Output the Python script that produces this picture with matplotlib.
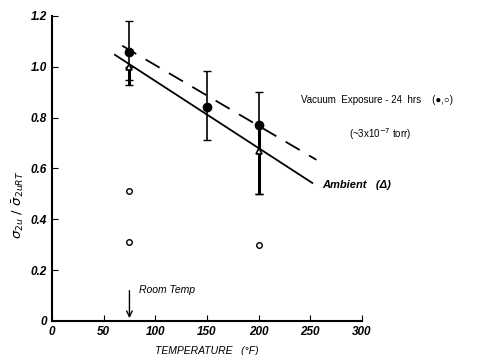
import matplotlib
matplotlib.use('Agg')
import matplotlib.pyplot as plt
import numpy as np

# data
temp_vac = [75, 150, 200]
ratio_vac = [1.06, 0.84, 0.77]
vac_hi = [1.18, 0.985, 0.90]
vac_lo = [0.95, 0.71, 0.50]

temp_amb = [75, 200]
ratio_amb = [1.00, 0.67]
amb_hi = [1.00, 0.77]
amb_lo = [0.93, 0.50]

temp_low = [75, 75, 200]
ratio_low = [0.51, 0.31, 0.30]

# fitted lines (end points)
amb_line_x = [61, 252]
amb_line_y = [1.047, 0.543]
vac_line_x = [68, 256]
vac_line_y = [1.083, 0.634]

xticks = [0, 50, 100, 150, 200, 250, 300]
yticks = [0, 0.2, 0.4, 0.6, 0.8, 1.0, 1.2]
ylabels = ['0', '0.2', '0.4', '0.6', '0.8', '1.0', '1.2']

plt.rcParams['font.family'] = ['Liberation Sans', 'DejaVu Sans']

fig = plt.figure(figsize=(4.95, 3.55), dpi=100)
ax = fig.add_axes([0.105, 0.096, 0.626, 0.859])

ax.plot(amb_line_x, amb_line_y, color='black', lw=1.3)
ax.plot(vac_line_x, vac_line_y, color='black', lw=1.3, dashes=(9, 6))

# error bars
vac_err = [np.array(ratio_vac) - np.array(vac_lo), np.array(vac_hi) - np.array(ratio_vac)]
ax.errorbar(temp_vac, ratio_vac, yerr=vac_err, fmt='none', ecolor='black', elinewidth=1.2, capsize=3)
amb_err = [np.array(ratio_amb) - np.array(amb_lo), np.array(amb_hi) - np.array(ratio_amb)]
ax.errorbar(temp_amb, ratio_amb, yerr=amb_err, fmt='none', ecolor='black', elinewidth=2.2, capsize=3)

ax.plot(temp_vac, ratio_vac, 'o', color='black', ms=6)
ax.plot(temp_amb, ratio_amb, '^', mfc='white', mec='black', mew=1.2, ms=5)
ax.plot(temp_low, ratio_low, 'o', mfc='white', mec='black', mew=1.0, ms=4)

# room temperature arrow
ax.annotate('', xy=(75, 0.0), xytext=(75, 0.13),
            arrowprops=dict(arrowstyle='->', color='black', lw=1.0))
ax.text(84, 0.12, 'Room Temp', fontsize=7.5, style='italic', va='center')

ax.text(241, 0.87, 'Vacuum  Exposure - 24  hrs    (\u25cf,\u25cb)', fontsize=7, va='center')
ax.text(288, 0.735, '(~3x10$^{-7}$ torr)', fontsize=7, va='center')
ax.text(262, 0.535, 'Ambient   (\u0394)', fontsize=8, style='italic', weight='bold', va='center')

ax.set_xlim(0, 300)
ax.set_ylim(0, 1.2)
ax.set_xticks(xticks)
ax.set_yticks(yticks)
ax.set_yticklabels(ylabels)
ax.tick_params(direction='in', length=4, labelsize=8.5)
for lab in ax.get_xticklabels() + ax.get_yticklabels():
    lab.set_style('italic')
    lab.set_weight('bold')

ax.spines['top'].set_visible(False)
ax.spines['right'].set_visible(False)
ax.spines['left'].set_linewidth(1.5)
ax.spines['bottom'].set_linewidth(1.5)

ax.set_xlabel('TEMPERATURE   (\u00b0F)', fontsize=7.5, style='italic', labelpad=6)
ax.set_ylabel(r'$\sigma_{2u}\ /\ \bar{\sigma}_{2uRT}$', fontsize=9.5)
ax.yaxis.set_label_coords(-0.085, 0.38)

plt.savefig('out.png', dpi=100)
